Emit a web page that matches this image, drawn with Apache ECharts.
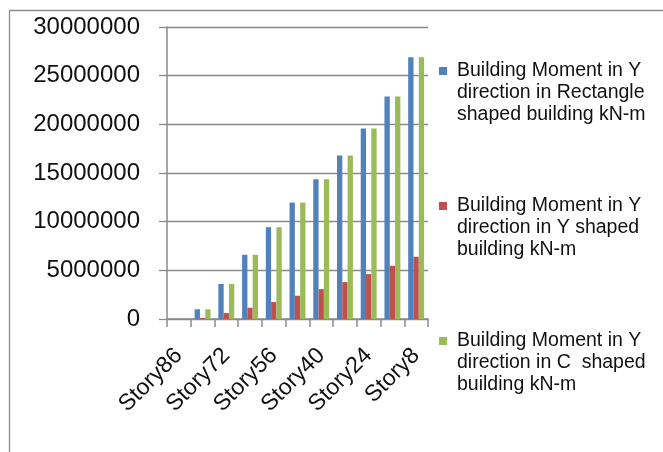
<!DOCTYPE html>
<html>
<head>
<meta charset="utf-8">
<script src="https://cdn.jsdelivr.net/npm/echarts@6/dist/echarts.min.js"></script>
<style>
  html, body { margin: 0; padding: 0; background: #fff; }
  #chart { width: 663px; height: 452px; }
</style>
</head>
<body>
<div id="chart"></div>
<script>
// Storeys, top to bottom of the building
const stories = ['Story86', 'Story80', 'Story72', 'Story64', 'Story56', 'Story48',
                 'Story40', 'Story32', 'Story24', 'Story16', 'Story8'];

// Building moment in Y direction (kN-m)
const rectangleMoment = [0, 1000000, 3600000, 6600000, 9430000, 11960000,
                         14350000, 16810000, 19580000, 22860000, 26890000];
const yShapedMoment   = [0, 100000, 610000, 1160000, 1740000, 2390000,
                         3070000, 3790000, 4610000, 5470000, 6390000];
const cShapedMoment   = [0, 1000000, 3600000, 6600000, 9430000, 11960000,
                         14350000, 16810000, 19580000, 22860000, 26890000];

const seriesNames = [
  'Building Moment in Y direction in Rectangle shaped building kN-m',
  'Building Moment in Y direction in Y shaped building kN-m',
  'Building Moment in Y direction in C  shaped building kN-m'
];
// Legend text, wrapped the way it appears beside the plot
const legendLines = [
  ['Building Moment in Y', 'direction in Rectangle', 'shaped building kN-m'],
  ['Building Moment in Y', 'direction in Y shaped', 'building kN-m'],
  ['Building Moment in Y', 'direction in C  shaped', 'building kN-m']
];

const yTicks = { min: 0, max: 30000000, interval: 5000000 };
const colors = ['#4F81BD', '#C0504D', '#9BBB59'];
const axisGrey = '#8A8A8A';
const lineH = 21.7;

const chart = echarts.init(document.getElementById('chart'), null, { renderer: 'canvas' });

const values = [rectangleMoment, yShapedMoment, cShapedMoment];

chart.setOption({
  animation: false,
  textStyle: { fontFamily: 'Liberation Sans' },
  graphic: [{
    type: 'rect',
    left: 7, top: 8,
    shape: { width: 700, height: 500 },
    style: { fill: 'none', stroke: '#8C8C8C', lineWidth: 1.3 },
    silent: true
  }],
  grid: { left: 167, right: 235, top: 27, bottom: 133, containLabel: false },
  legend: {
    orient: 'vertical',
    left: 439,
    top: 71 - 2.5 * lineH,
    padding: 0,
    itemWidth: 8,
    itemHeight: 8,
    itemGap: 135 - 5 * lineH,
    icon: 'rect',
    selectedMode: false,
    data: seriesNames,
    formatter: function (name) {
      const i = seriesNames.indexOf(name);
      return '\n\n' + legendLines[i].join('\n');
    },
    textStyle: {
      fontFamily: 'Liberation Sans',
      fontSize: 19.5,
      lineHeight: lineH,
      color: '#111',
      padding: [0, 0, 0, 5]
    }
  },
  xAxis: {
    type: 'category',
    data: stories,
    boundaryGap: true,
    axisLine: { lineStyle: { color: axisGrey, width: 1.5 } },
    axisTick: { show: true, interval: 0, length: 8, lineStyle: { color: axisGrey, width: 1.5 } },
    axisLabel: {
      interval: 1,
      rotate: 45,
      margin: 33,
      fontSize: 23,
      fontFamily: 'Liberation Sans',
      color: '#111'
    }
  },
  yAxis: {
    type: 'value',
    min: yTicks.min,
    max: yTicks.max,
    interval: yTicks.interval,
    axisLine: { show: true, lineStyle: { color: axisGrey, width: 1.5 } },
    axisTick: { show: true, length: 8, lineStyle: { color: axisGrey, width: 1.3 } },
    splitLine: { lineStyle: { color: axisGrey, width: 1.3 } },
    axisLabel: {
      margin: 27,
      fontSize: 24,
      fontFamily: 'Liberation Sans',
      color: '#111',
      formatter: function (v) { return String(v); }
    }
  },
  series: seriesNames.map(function (name, i) {
    return {
      name: name,
      type: 'bar',
      data: values[i],
      itemStyle: { color: colors[i] },
      barGap: '0%',
      barCategoryGap: '33%'
    };
  })
});
</script>
</body>
</html>
